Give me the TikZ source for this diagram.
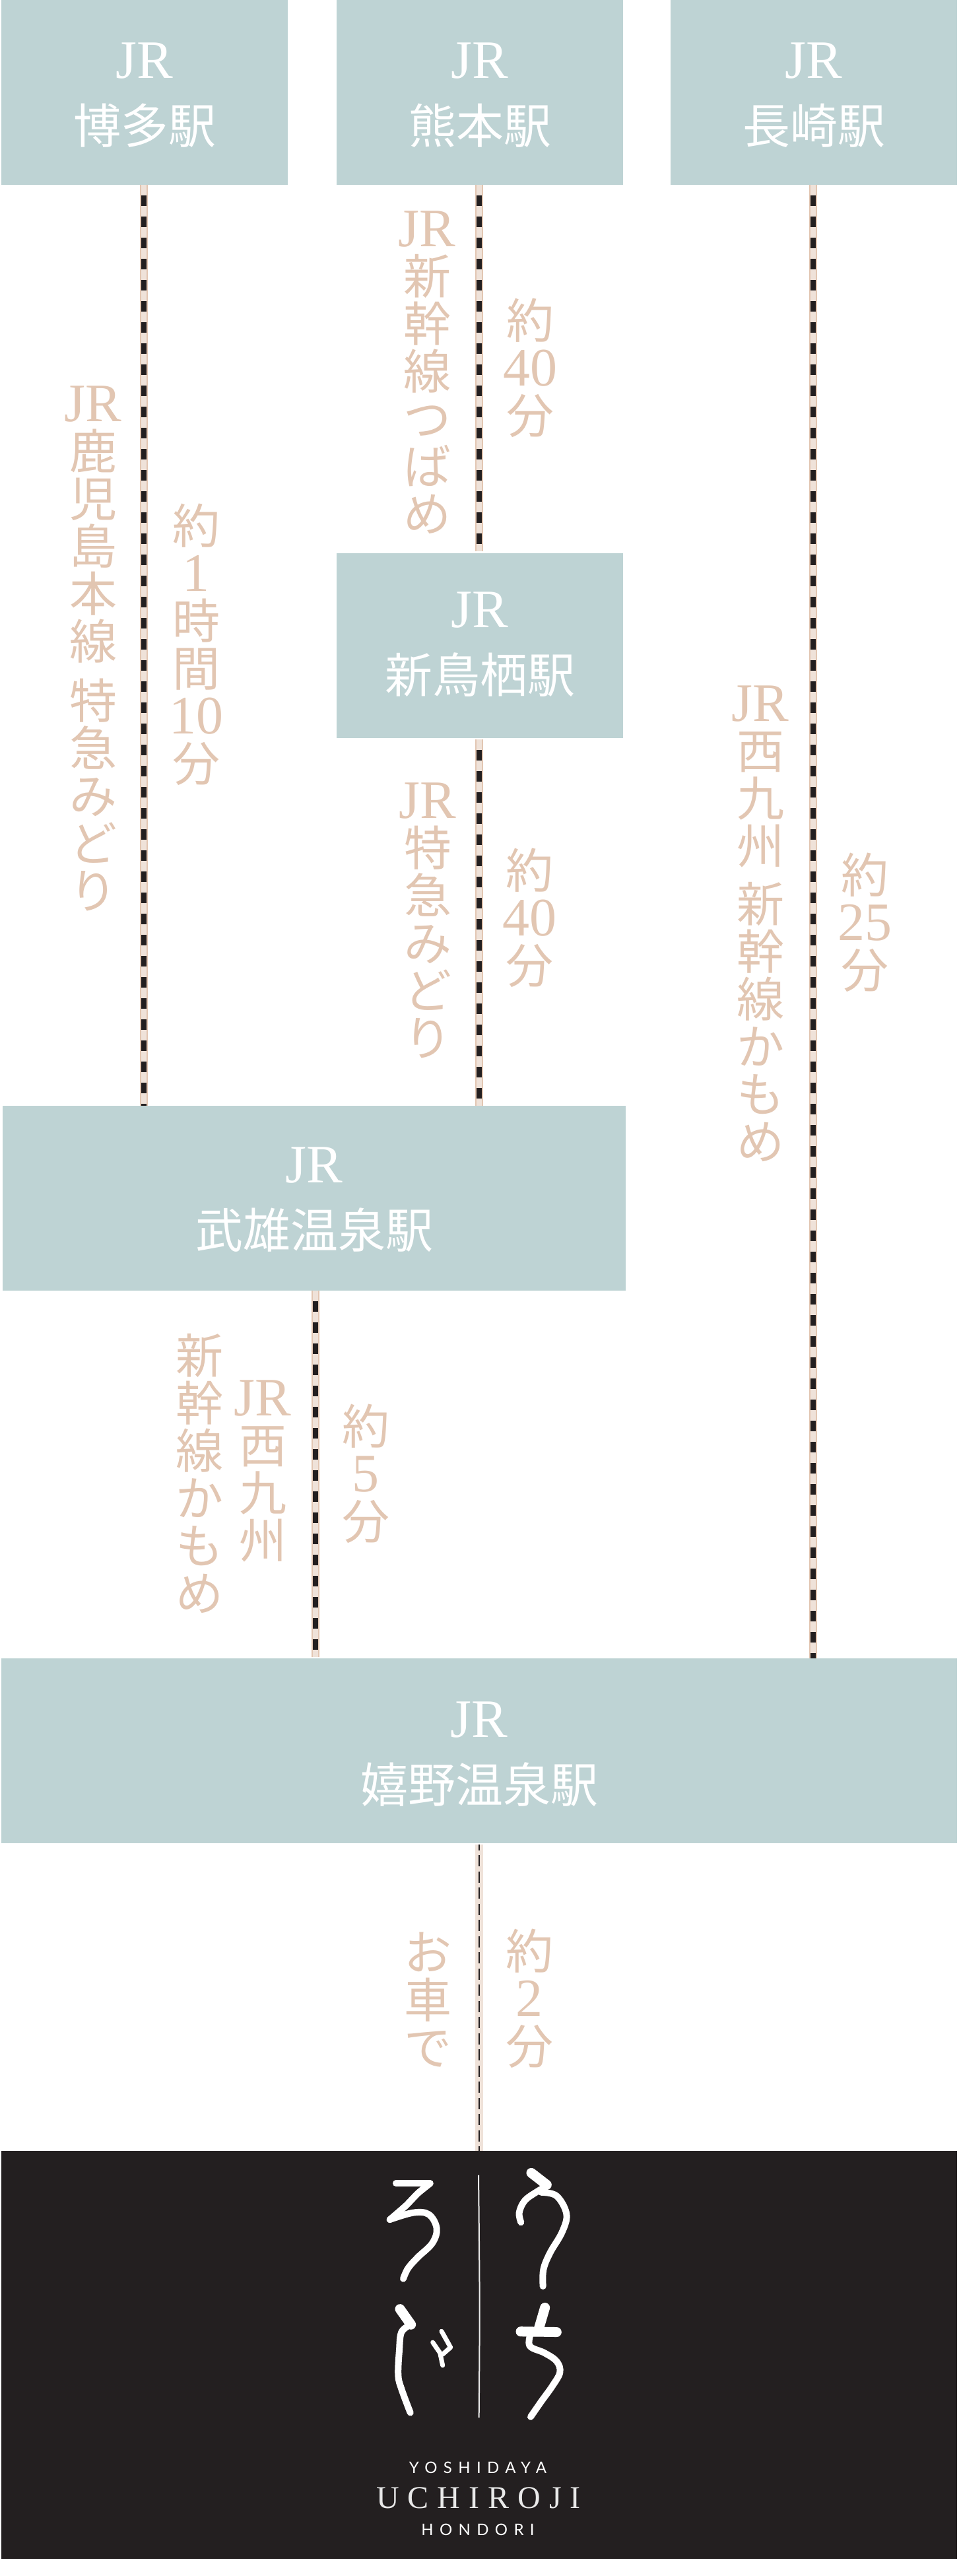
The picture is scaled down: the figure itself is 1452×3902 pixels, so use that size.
\documentclass[tikz,border=0pt]{standalone}
\usepackage{fontspec}
\setmainfont{Noto Sans CJK JP}
\newfontfamily\latfam{Liberation Serif}
\newfontfamily\logosans[LetterSpace=39]{Lato}
\newfontfamily\logoserif[LetterSpace=27]{Liberation Serif}
\definecolor{tan}{HTML}{E2C6B2}
\definecolor{cream}{HTML}{EFE2D9}
\definecolor{ink}{HTML}{231F20}
\definecolor{mist}{HTML}{BED3D4}
\newcommand\lat[1]{{\latfam\fontsize{41}{36}\selectfont #1}}
\newcommand\boxfont{\fontsize{36}{49.5}\selectfont\lineskiplimit=-100pt}
\newcommand\vfont{\fontsize{36}{36}\selectfont\lineskiplimit=-100pt}
\newcommand\capstrut[1]{\rule{0pt}{#1pt}}
\tikzset{
  station/.style={rectangle,fill=mist,text=white,inner sep=0pt,minimum height=140pt,minimum width=217pt,align=center,font=\boxfont},
  vlabel/.style={anchor=north,inner sep=0pt,align=center,text=tan,font=\vfont},
  rail/.style={line width=6pt,draw=tan,
    postaction={draw=cream,line width=4pt},
    postaction={draw=ink,line width=4pt,dash pattern=on 8pt off 8pt,dash phase=8pt}},
  road/.style={line width=6pt,draw=cream,
    postaction={draw=ink,line width=1pt,dash pattern=on 8.5pt off 3.75pt,dash phase=4.25pt}},
  brush/.style={draw=white,line width=5pt,line cap=round,line join=round},
  brushthick/.style={draw=white,line width=7.5pt,line cap=round,line join=round},
  brushthin/.style={draw=white,line width=3.5pt,line cap=round,line join=round},
}
\begin{document}
\begin{tikzpicture}[x=0.5pt,y=-0.5pt]
\useasboundingbox (0,0) rectangle (1452,3902);
\fill[white] (0,0) rectangle (1452,3902);
% stations
\node[station] (hakata) at (219,140) {\capstrut{31}\lat{JR}\\博多駅};
\node[station] (kumamoto) at (727,140) {\capstrut{31}\lat{JR}\\熊本駅};
\node[station] (nagasaki) at (1233,140) {\capstrut{31}\lat{JR}\\長崎駅};
\node[station] (shintosu) at (727,978) {\capstrut{31}\lat{JR}\\新鳥栖駅\rule[-9pt]{0pt}{1pt}};
\node[station,minimum width=472pt] (takeo) at (476,1815) {\capstrut{28.5}\lat{JR}\\武雄温泉駅};
\node[station,minimum width=724pt] (ureshino) at (726,2652) {\capstrut{32}\lat{JR}\\嬉野温泉駅};
\node[rectangle,fill=ink,inner sep=0pt,minimum width=724pt,minimum height=309pt] (logo) at (726,3567) {};
% rails
\draw[rail] ([xshift=-0.5pt]hakata.south) -- ([xshift=-0.5pt]hakata.south |- takeo.north);
\draw[rail,shorten >=1.5pt] ([xshift=-0.5pt]kumamoto.south) -- ([xshift=-0.5pt]kumamoto.south |- shintosu.north);
\draw[rail,shorten <=1pt] ([xshift=-0.5pt]shintosu.south) -- ([xshift=-0.5pt]shintosu.south |- takeo.north);
\draw[rail] ([xshift=-0.5pt]nagasaki.south) -- ([xshift=-0.5pt]nagasaki.south |- ureshino.north);
\draw[rail,shorten >=1pt] ([xshift=1pt]takeo.south) -- ([xshift=1pt]takeo.south |- ureshino.north);
\draw[road,shorten <=1pt] (ureshino.south) -- (logo.north);
% labels
\node[vlabel] (l1) at (141,584) {\lat{JR}\\鹿\\児\\島\\本\\線\\[9pt]特\\急\\み\\ど\\り};
\node[vlabel] (l2) at (297,763) {約\\\lat{1}\\時\\間\\\lat{10}\\分};
\node[vlabel] (l3) at (647,319) {\lat{JR}\\新\\幹\\線\\つ\\ば\\め};
\node[vlabel] (l4) at (803,452) {約\\\lat{40}\\分};
\node[vlabel] (l5) at (648,1185) {\lat{JR}\\特\\急\\み\\ど\\り};
\node[vlabel] (l6) at (802,1285) {約\\\lat{40}\\分};
\node[vlabel] (l7) at (1152,1038) {\lat{JR}\\西\\九\\州\\[8pt]新\\幹\\線\\か\\も\\め};
\node[vlabel] (l8) at (1310,1292) {約\\\lat{25}\\分};
\node[vlabel] (l9) at (554,2127) {約\\\lat{5}\\分};
\node[vlabel] (l10) at (398,2090) {\lat{JR}\\西\\九\\州};
\node[vlabel] (l11) at (302.5,2020) {新\\幹\\線\\か\\も\\め};
\node[vlabel] (l12) at (802,2922) {約\\\lat{2}\\分};
\node[vlabel] (l13) at (648,2927) {お\\車\\で};
% logo calligraphy
\begin{scope}[shift={(250pt,-1620pt)},x=0.16667pt,y=-0.21044pt]
  % ro
  \draw[brush] plot[smooth,tension=.5] coordinates {(300,160) (455,160)};
  \draw[brush] plot[smooth,tension=.4] coordinates {(455,160) (400,195) (345,240) (272,290)};
  \draw[brush] plot[smooth,tension=.6] coordinates {(272,290) (380,265) (450,272) (485,322) (465,375) (400,425) (355,465) (333,503)};
  % u
  \draw[brushthick] (915,122) -- (985,165);
  \draw[brush] plot[smooth,tension=.6] coordinates {(985,170) (940,190) (885,222) (860,265) (868,300)};
  \draw[brush] plot[smooth,tension=.6] coordinates {(960,192) (1030,205) (1075,270) (1055,335) (1000,410) (970,470) (968,530)};
  % chi
  \draw[brushthick] (977,607) -- (950,680);
  \draw[brushthick] (867,693) -- (1030,695);
  \draw[brush] plot[smooth,tension=.6] coordinates {(912,700) (908,745) (975,770) (1030,800) (1045,840) (1010,890) (960,945) (912,1000)};
  % ji
  \draw[brushthick] (318,612) -- (368,668);
  \draw[brush] plot[smooth,tension=.6] coordinates {(368,668) (325,695) (315,760) (310,850) (325,900) (365,985)};
  \draw[brushthin] (467,732) -- (500,770) -- (512,815);
  \draw[brushthin] (507,692) -- (548,750) -- (512,775);
  % divider
  \draw[draw=white!90!ink,line width=1pt] plot[smooth] coordinates {(675,130) (680,600) (677,1003)};
\end{scope}
\node[inner sep=0pt,text=white,font=\logosans\fontsize{12}{12}\selectfont] (yoshidaya) at (724,3737.5) {YOSHIDAYA};
\node[inner sep=0pt,text=white!90!ink,font=\logoserif\fontsize{24}{24}\selectfont] (uchiroji) at (725,3784) {UCHIROJI};
\node[inner sep=0pt,text=white,font=\logosans\fontsize{12}{12}\selectfont] (hondori) at (724,3831.5) {HONDORI};
\end{tikzpicture}
\end{document}
